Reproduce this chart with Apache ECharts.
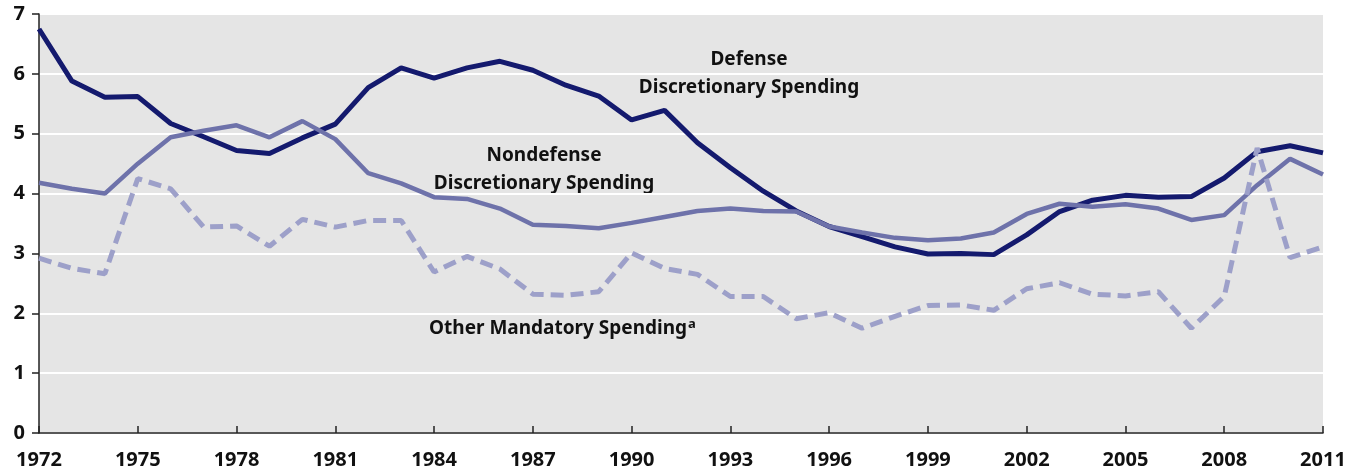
<!DOCTYPE html>
<html>
<head>
<meta charset="utf-8">
<script src="https://cdn.jsdelivr.net/npm/echarts@6/dist/echarts.min.js"></script>
<style>
  html, body { margin: 0; padding: 0; background: #fff; }
  #main { width: 1357px; height: 471px; }
</style>
</head>
<body>
<div id="main"></div>
<script>
// years on the x axis
var years = [];
for (var y = 1972; y <= 2011; y++) { years.push(String(y)); }

var defense = [6.75, 5.88, 5.61, 5.62, 5.17, 4.95, 4.72, 4.67, 4.93, 5.16,
               5.77, 6.10, 5.93, 6.10, 6.21, 6.06, 5.81, 5.63, 5.23, 5.39,
               4.85, 4.43, 4.04, 3.71, 3.45, 3.28, 3.11, 2.99, 3.00, 2.98,
               3.31, 3.70, 3.89, 3.97, 3.94, 3.95, 4.26, 4.70, 4.80, 4.68];

var nondefense = [4.18, 4.08, 4.00, 4.50, 4.94, 5.05, 5.14, 4.94, 5.21, 4.91,
                  4.34, 4.17, 3.94, 3.91, 3.75, 3.48, 3.46, 3.42, 3.51, 3.61,
                  3.71, 3.75, 3.71, 3.70, 3.45, 3.35, 3.26, 3.22, 3.25, 3.35,
                  3.66, 3.83, 3.78, 3.82, 3.75, 3.56, 3.64, 4.14, 4.58, 4.32];

var otherMandatory = [2.92, 2.75, 2.66, 4.25, 4.08, 3.44, 3.46, 3.12, 3.57, 3.44,
                      3.55, 3.55, 2.69, 2.95, 2.74, 2.32, 2.30, 2.36, 3.01, 2.75,
                      2.65, 2.28, 2.28, 1.91, 2.01, 1.75, 1.95, 2.13, 2.14, 2.05,
                      2.41, 2.51, 2.32, 2.29, 2.36, 1.75, 2.28, 4.76, 2.93, 3.11];

var yTicks = [0, 1, 2, 3, 4, 5, 6, 7];

var FONT = '"Noto Sans", sans-serif';

var myChart = echarts.init(document.getElementById('main'));

var option = {
    animation: false,
    grid: {
        left: 39, right: 34, top: 14, bottom: 38,
        show: true,
        backgroundColor: '#e5e5e5',
        borderWidth: 0
    },
    xAxis: {
        type: 'category',
        data: years,
        boundaryGap: false,
        axisLine: { lineStyle: { color: '#222', width: 1.5 } },
        axisTick: { inside: true, length: 7, interval: 2, lineStyle: { color: '#222', width: 1.5 } },
        axisLabel: {
            interval: 2, margin: 17,
            color: '#111', fontFamily: FONT, fontWeight: 'bold', fontSize: 20
        },
        splitLine: { show: false }
    },
    yAxis: {
        type: 'value',
        min: yTicks[0], max: yTicks[yTicks.length - 1], interval: 1,
        axisLine: { show: true, lineStyle: { color: '#222', width: 1.5 } },
        axisTick: { show: true, length: 7, lineStyle: { color: '#222', width: 1.5 } },
        axisLabel: {
            margin: 14,
            color: '#111', fontFamily: FONT, fontWeight: 'bold', fontSize: 20
        },
        splitLine: { lineStyle: { color: '#ffffff', width: 2 } }
    },
    series: [{
        name: 'Defense Discretionary Spending',
        type: 'line',
        data: defense,
        symbol: 'none',
        lineStyle: { color: '#141a6e', width: 5 },
        z: 3
    }, {
        name: 'Nondefense Discretionary Spending',
        type: 'line',
        data: nondefense,
        symbol: 'none',
        lineStyle: { color: '#6e72aa', width: 4.5 },
        z: 4
    }, {
        name: 'Other Mandatory Spending',
        type: 'line',
        data: otherMandatory,
        symbol: 'none',
        lineStyle: { color: '#9da0c9', width: 5, type: [13, 7] },
        z: 5
    }]
};

// annotation labels
option.graphic = [
    { type: 'text', x: 749, y: 74, style: {
        text: 'Defense\nDiscretionary Spending', align: 'center', verticalAlign: 'middle',
        fill: '#111', font: 'bold 19px ' + FONT, lineHeight: 28 } },
    { type: 'text', x: 544, y: 170, style: {
        text: 'Nondefense\nDiscretionary Spending', align: 'center', verticalAlign: 'middle',
        fill: '#111', font: 'bold 19px ' + FONT, lineHeight: 28 } },
    { type: 'text', x: 429, y: 329, style: {
        text: '{m|Other Mandatory Spending}{s|a}', align: 'left', verticalAlign: 'middle',
        rich: {
            m: { fill: '#111', font: 'bold 19px ' + FONT },
            s: { fill: '#111', font: 'bold 13px ' + FONT, verticalAlign: 'top', padding: [0, 0, 10, 1] }
        } } }
];

myChart.setOption(option);
</script>
</body>
</html>
